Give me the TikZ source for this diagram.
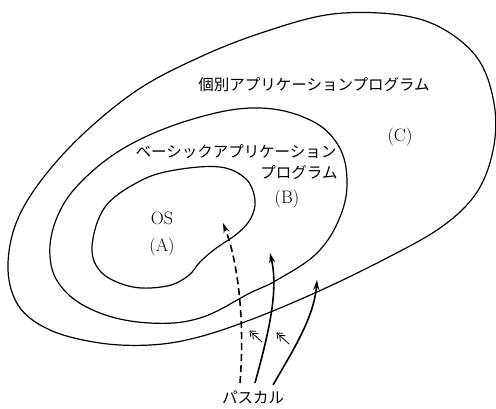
\documentclass[tikz,border=0pt]{standalone}
\usepackage{fontspec}
\newfontfamily\jp{Noto Sans CJK JP}
\usetikzlibrary{arrows.meta}
\tikzset{
  curve/.style={line width=1.2pt, line join=round},
  arr/.style={line width=1.6pt, -{Stealth[length=10pt,width=6pt]}},
  dsh/.style={dash pattern=on 7pt off 4pt},
  mkline/.style={line width=0.8pt, line join=miter},
  chev/.pic={
    \draw[mkline] (0.8,6) -- (0,0) -- (6,0.3);
    \draw[mkline] (3.4,8.4) -- (2.6,2.4) -- (8.6,2.7);
    \draw[mkline] (0,0) -- (12,11);
  },
  jtxt/.style={font=\jp\fontsize{15.5}{17}\selectfont, inner sep=0pt},
  ltxt/.style={font=\fontsize{18}{20}\selectfont, inner sep=0pt}
}
\begin{document}
\begin{tikzpicture}[x=1pt,y=-1pt]
\useasboundingbox (0,0) rectangle (496,408);
% outer region C
\draw[curve] plot[smooth cycle, tension=0.6] coordinates {
 (8,263) (22,210) (67,150) (133,93) (200,57) (267,31) (333,14) (400,15)
 (445,30) (480,62) (495,110) (492,155) (475,195) (440,228) (383,260)
 (317,292) (250,320) (195,338) (150,345) (100,343) (50,330) (18,305)};
% middle region B
\draw[curve] plot[smooth cycle, tension=0.65] coordinates {
 (50,257) (58,215) (85,178) (133,143) (200,117) (260,108) (310,120)
 (338,145) (347,180) (340,217) (317,253) (277,280) (250,293) (200,318)
 (150,323) (100,313) (64,290)};
% inner region A
\draw[curve] plot[smooth cycle, tension=0.6] coordinates {
 (92,247) (105,207) (140,181) (175,170) (220,167) (246,179) (255,200)
 (251,218) (238,233) (215,249) (200,262) (188,276) (167,286) (133,287)
 (102,273)};
% texts
\node[jtxt] (tc) at (314,85) {個別アプリケーションプログラム};
\node[ltxt] (lc) at (400,137) {(C)};
\node[jtxt] (tb1) at (236,152) {ベーシックアプリケーション};
\node[jtxt] (tb2) at (299,173) {プログラム};
\node[ltxt] (lb) at (287,199) {(B)};
\node[ltxt] (os) at (162,218) {OS};
\node[ltxt] (la) at (162,247) {(A)};
\node[jtxt] (pascal) at (253,397) {パスカル};
% arrows
\coordinate (d0) at (240,383); \coordinate (d1) at (223,223);
\coordinate (m0) at (255,383); \coordinate (m1) at (270,253);
\coordinate (r0) at (273,385); \coordinate (r1) at (317,280);
\draw[arr, dsh] (d0) .. controls (245,320) and (238,262) .. (d1);
\draw[arr] (m0) .. controls (268,335) and (279,292) .. (m1);
\draw[arr] (r0) .. controls (292,352) and (314,318) .. (r1);
% small double-chevron markers
\coordinate (k1) at (250,331);
\coordinate (k2) at (277,333);
\pic at (k1) {chev};
\pic at (k2) {chev};
\end{tikzpicture}
\end{document}
